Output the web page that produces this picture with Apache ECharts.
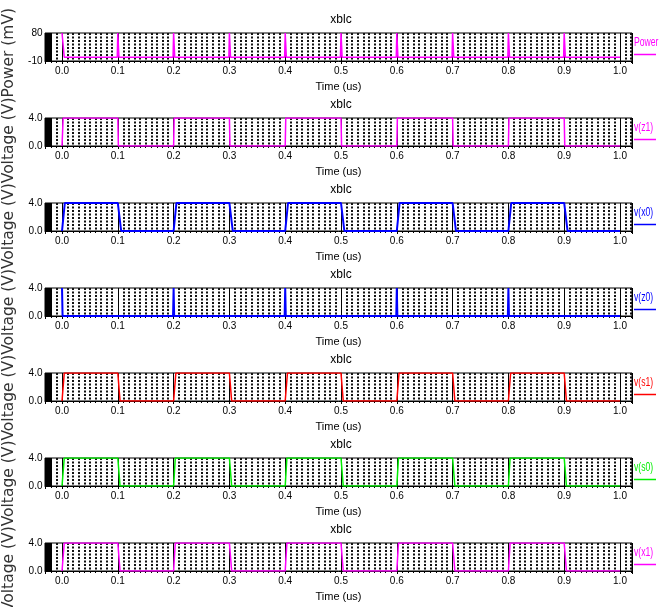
<!DOCTYPE html>
<html><head><meta charset="utf-8">
<script src="https://cdn.jsdelivr.net/npm/echarts@6/dist/echarts.min.js"></script>
<style>html,body{margin:0;padding:0;background:#fff}#c{width:659px;height:607px}</style>
</head><body><div id="c"></div>
<script>
// ---- data ----
const seriesNames = ['Power', 'v(z1)', 'v(x0)', 'v(z0)', 'v(s1)', 'v(s0)', 'v(x1)'];
const panelTitles = ['xblc', 'xblc', 'xblc', 'xblc', 'xblc', 'xblc', 'xblc'];
const xAxisName = 'Time (us)';
const yAxisTitle = 'Voltage (V)Voltage (V)Voltage (V)Voltage (V)Voltage (V)Voltage (V)Power (mV)';
const yMins = [-10, 0, 0, 0, 0, 0, 0];
const yMaxs = [80, 4, 4, 4, 4, 4, 4];
const yStep = [10, 4, 4, 4, 4, 4, 4];
const yTickLabels = [['-10', '80'], ['0.0', '4.0'], ['0.0', '4.0'], ['0.0', '4.0'], ['0.0', '4.0'], ['0.0', '4.0'], ['0.0', '4.0']];
const xMin = -0.0305, xMax = 1.0215;

const powerData = [[0,80],[0.004,2],[0.099,2],[0.1,80],[0.102,2],[0.199,2],[0.2,80],[0.202,2],[0.299,2],[0.3,80],[0.302,2],
  [0.399,2],[0.4,80],[0.402,2],[0.499,2],[0.5,80],[0.502,2],[0.599,2],[0.6,80],[0.602,2],[0.699,2],[0.7,80],[0.702,2],
  [0.799,2],[0.8,80],[0.802,2],[0.899,2],[0.9,80],[0.902,2],[1.0,2]];
const z1Data = [[0,0],[0.002,4],[0.1,4],[0.101,0],[0.2,0],[0.201,4],[0.3,4],[0.301,0],[0.4,0],[0.401,4],[0.5,4],[0.501,0],
  [0.6,0],[0.601,4],[0.7,4],[0.701,0],[0.8,0],[0.801,4],[0.9,4],[0.901,0],[1.0,0]];
const x0Data = [[0,0],[0.005,4],[0.1,4],[0.106,0],[0.2,0],[0.205,4],[0.3,4],[0.306,0],[0.4,0],[0.405,4],[0.5,4],[0.506,0],
  [0.6,0],[0.605,4],[0.7,4],[0.706,0],[0.8,0],[0.805,4],[0.9,4],[0.906,0],[1.0,0]];
const z0Data = [[0,4],[0.001,0],[0.199,0],[0.2,4],[0.201,0],[0.399,0],[0.4,4],[0.401,0],[0.599,0],[0.6,4],[0.601,0],
  [0.799,0],[0.8,4],[0.801,0],[1.0,0]];
const s1Data = [[0,0],[0.004,4],[0.1,4],[0.104,0],[0.2,0],[0.204,4],[0.3,4],[0.304,0],[0.4,0],[0.404,4],[0.5,4],[0.504,0],
  [0.6,0],[0.604,4],[0.7,4],[0.704,0],[0.8,0],[0.804,4],[0.9,4],[0.904,0],[1.0,0]];
const s0Data = [[0,0],[0.004,4],[0.1,4],[0.104,0],[0.2,0],[0.203,4],[0.3,4],[0.304,0],[0.4,0],[0.403,4],[0.5,4],[0.504,0],
  [0.6,0],[0.603,4],[0.7,4],[0.704,0],[0.8,0],[0.803,4],[0.9,4],[0.904,0],[1.0,0]];
const x1Data = [[0,0],[0.004,4],[0.1,4],[0.104,0],[0.2,0],[0.203,4],[0.3,4],[0.304,0],[0.4,0],[0.403,4],[0.5,4],[0.504,0],
  [0.6,0],[0.603,4],[0.7,4],[0.704,0],[0.8,0],[0.803,4],[0.9,4],[0.904,0],[1.0,0]];
const seriesData = [powerData, z1Data, x0Data, z0Data, s1Data, s0Data, x1Data];

// ---- styles / layout ----
const colors = ['#ff00ff', '#ff00ff', '#0000ff', '#0000ff', '#ff0000', '#00ee00', '#ff00ff'];
const widths = [1.5, 1.5, 2, 2, 1.5, 1.5, 1.5];
const TOP0 = 33, STEP = 85, H = 28, LEFT = 45, RIGHT = 27;
const NARROW = '"Liberation Sans Narrow", "Liberation Sans", Arial, sans-serif';

const grids = [], xAxes = [], yAxes = [], series = [], graphics = [];
seriesNames.forEach((name, i) => {
  const top = TOP0 + STEP * i;
  grids.push({ left: LEFT, right: RIGHT, top: top, height: H, show: true,
    borderColor: '#000', borderWidth: 1, backgroundColor: '#fff', containLabel: false });
  xAxes.push({
    type: 'value', gridIndex: i, min: xMin, max: xMax, splitNumber: 10, minInterval: 0.1, maxInterval: 0.1,
    name: xAxisName, nameLocation: 'middle', nameGap: 20,
    nameTextStyle: { fontFamily: NARROW, fontSize: 11, color: '#000' },
    axisLine: { show: true, onZero: false, lineStyle: { color: '#000', width: 1 } },
    axisTick: { show: true, length: 3, lineStyle: { color: '#000' } },
    minorTick: { show: true, splitNumber: 10, length: 2, lineStyle: { color: '#000' } },
    axisLabel: { show: true, margin: 5, fontFamily: NARROW, fontSize: 10, color: '#000',
      showMinLabel: false, showMaxLabel: false,
      formatter: v => (Math.abs(v * 10 - Math.round(v * 10)) < 1e-6 && v >= -1e-9 && v <= 1 + 1e-9) ? v.toFixed(1) : '' },
    splitLine: { show: true, lineStyle: { color: '#000', width: 1 } },
    minorSplitLine: { show: true, lineStyle: { color: '#111', width: 2, type: [2, 1.5] } }
  });
  yAxes.push({
    type: 'value', gridIndex: i, min: yMins[i], max: yMaxs[i], interval: yStep[i], offset: -3.5,
    axisLine: { show: true, onZero: false, lineStyle: { color: '#000', width: 7, cap: 'butt' } },
    axisTick: { show: false },
    splitLine: { show: false },
    axisLabel: { show: true, margin: 6, fontFamily: NARROW, fontSize: 10, color: '#000',
      formatter: v => v === yMins[i] ? yTickLabels[i][0] : (v === yMaxs[i] ? yTickLabels[i][1] : '') }
  });
  series.push({
    name: name, type: 'line', xAxisIndex: i, yAxisIndex: i, data: seriesData[i],
    symbol: 'none', showSymbol: false, animation: false, z: 5,
    lineStyle: { color: colors[i], width: widths[i] }, itemStyle: { color: colors[i] }
  });
  graphics.push({ type: 'text', x: 341, y: top - 13,
    style: { text: panelTitles[i], font: '12px ' + NARROW, fill: '#000', align: 'center', verticalAlign: 'middle' } });
  graphics.push({ type: 'text', x: 634, y: top + 10, scaleX: 0.72,
    style: { text: name, font: '12px ' + NARROW, fill: colors[i], align: 'left', verticalAlign: 'middle' } });
  graphics.push({ type: 'line', shape: { x1: 634, y1: top + 21.5, x2: 656, y2: top + 21.5 },
    style: { stroke: colors[i], lineWidth: 1.5 } });
});
graphics.push({ type: 'text', x: 9, y: 310, rotation: Math.PI / 2,
  style: { text: yAxisTitle, font: '15.5px "DejaVu Sans", sans-serif', fill: '#333', align: 'center', verticalAlign: 'middle' } });

const chart = echarts.init(document.getElementById('c'), null, { renderer: 'canvas' });
chart.setOption({
  animation: false, backgroundColor: '#fff',
  grid: grids, xAxis: xAxes, yAxis: yAxes, series: series, graphic: graphics
});
</script></body></html>
